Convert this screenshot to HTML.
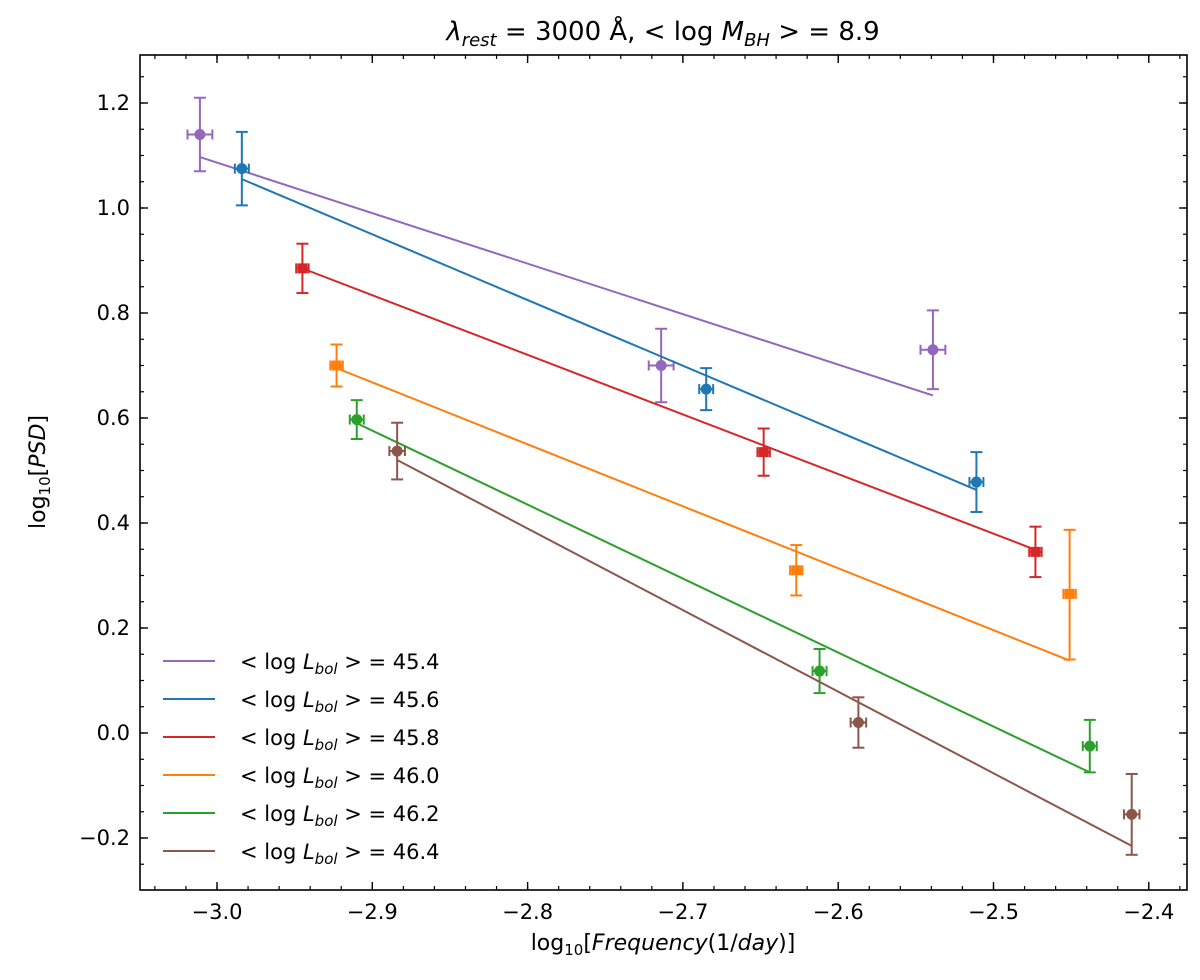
<!DOCTYPE html>
<html><head><meta charset="utf-8"><style>
body{margin:0;background:#fff;}
text{font-family:"DejaVu Sans","Liberation Sans",sans-serif;}
</style></head><body>
<svg id="chart" width="1200" height="975" xmlns="http://www.w3.org/2000/svg"></svg>
<script>
const seriesNames=["45.4","45.6","45.8","46.0","46.2","46.4"];
const colors=["#9467bd","#1f77b4","#d62728","#ff7f0e","#2ca02c","#8c564b"];
const markers=["circle","circle","square","square","circle","circle"];
const xVals=[[-3.011,-2.714,-2.539],[-2.984,-2.685,-2.511],[-2.945,-2.648,-2.473],[-2.923,-2.627,-2.451],[-2.91,-2.612,-2.438],[-2.884,-2.587,-2.411]];
const yVals=[[1.14,0.70,0.73],[1.075,0.655,0.478],[0.885,0.535,0.345],[0.70,0.31,0.265],[0.597,0.118,-0.025],[0.537,0.02,-0.155]];
const yErrLo=[[0.07,0.07,0.075],[0.07,0.04,0.057],[0.047,0.045,0.048],[0.04,0.048,0.125],[0.037,0.042,0.05],[0.054,0.048,0.077]];
const yErrHi=[[0.07,0.07,0.075],[0.07,0.04,0.057],[0.047,0.045,0.048],[0.04,0.048,0.122],[0.037,0.042,0.05],[0.054,0.048,0.077]];
const xErr=[[0.008,0.008,0.008],[0.0045,0.0045,0.0045],[0.004,0.004,0.004],[0.004,0.004,0.004],[0.0045,0.0045,0.0045],[0.005,0.005,0.005]];
const fitStart=[1.097,1.055,0.885,0.695,0.59,0.52];
const fitEnd=[0.643,0.463,0.349,0.138,-0.075,-0.215];
const xTicks=[-3.0,-2.9,-2.8,-2.7,-2.6,-2.5,-2.4];
const yTicks=[-0.2,0.0,0.2,0.4,0.6,0.8,1.0,1.2];

const svg=document.getElementById('chart');
const NS="http://www.w3.org/2000/svg";
const L=140,R=1187,T=55,B=890;
const X=v=>217+(v+3.0)*1553;
const Y=v=>733-v*525;
function el(tag,a,p){const e=document.createElementNS(NS,tag);for(const k in a)e.setAttribute(k,a[k]);(p||svg).appendChild(e);return e;}
const fmt=v=>(v<0?"\u2212":"")+Math.abs(v).toFixed(1);

let frame=el('rect',{x:L,y:T,width:R-L,height:B-T,fill:'none',stroke:'#000','stroke-width':1.6});


for(let i=0;i<=40;i++){const v=-3.06+i*0.02;const px=X(v);if(px<L||px>R)continue;
 el('line',{x1:px,y1:B,x2:px,y2:B-4,stroke:'#000','stroke-width':1.2});
 el('line',{x1:px,y1:T,x2:px,y2:T+4,stroke:'#000','stroke-width':1.2});}
xTicks.forEach(v=>{const px=X(v);
 el('line',{x1:px,y1:B,x2:px,y2:B-8,stroke:'#000','stroke-width':1.4});
 el('line',{x1:px,y1:T,x2:px,y2:T+8,stroke:'#000','stroke-width':1.4});
 const t=el('text',{x:px,y:B+29,'font-size':21,'text-anchor':'middle'});t.textContent=fmt(v);
 });
for(let i=0;i<=40;i++){const v=-0.3+i*0.05;const py=Y(v);if(py<T||py>B)continue;
 el('line',{x1:L,y1:py,x2:L+4,y2:py,stroke:'#000','stroke-width':1.2});
 el('line',{x1:R,y1:py,x2:R-4,y2:py,stroke:'#000','stroke-width':1.2});}
yTicks.forEach(v=>{const py=Y(v);
 el('line',{x1:L,y1:py,x2:L+8,y2:py,stroke:'#000','stroke-width':1.4});
 el('line',{x1:R,y1:py,x2:R-8,y2:py,stroke:'#000','stroke-width':1.4});
 const t=el('text',{x:L-10,y:py+7,'font-size':21,'text-anchor':'end'});t.textContent=fmt(v);
 });

seriesNames.forEach((n,s)=>{
 const g=el('g',{});
 const c=colors[s];
 const xs=xVals[s];
 const ln=el('line',{x1:X(xs[0]),y1:Y(fitStart[s]),x2:X(xs[2]),y2:Y(fitEnd[s]),stroke:c,'stroke-width':2},g);
 
 xs.forEach((x,i)=>{const y=yVals[s][i],px=X(x),py=Y(y);
  const y1=Y(y+yErrHi[s][i]),y2=Y(y-yErrLo[s][i]),x1=X(x-xErr[s][i]),x2=X(x+xErr[s][i]);
  el('line',{x1:px,y1:y1,x2:px,y2:y2,stroke:c,'stroke-width':2},g);
  el('line',{x1:px-6,y1:y1,x2:px+6,y2:y1,stroke:c,'stroke-width':2},g);
  el('line',{x1:px-6,y1:y2,x2:px+6,y2:y2,stroke:c,'stroke-width':2},g);
  el('line',{x1:x1,y1:py,x2:x2,y2:py,stroke:c,'stroke-width':2},g);
  el('line',{x1:x1,y1:py-5,x2:x1,y2:py+5,stroke:c,'stroke-width':2},g);
  el('line',{x1:x2,y1:py-5,x2:x2,y2:py+5,stroke:c,'stroke-width':2},g);
  let m;
  if(markers[s]==='square') m=el('rect',{x:px-5,y:py-5,width:10,height:10,fill:c},g);
  else m=el('circle',{cx:px,cy:py,r:5.5,fill:c},g);
  
 });
 const ly=661+s*38;
 const lg=el('g',{});
 el('line',{x1:163,y1:ly,x2:215,y2:ly,stroke:c,'stroke-width':2},lg);
 const t=el('text',{x:240,y:ly+8,'font-size':21},lg);
 t.innerHTML='&lt; log <tspan font-style="italic">L</tspan><tspan font-style="italic" font-size="15" dy="5">bol</tspan><tspan dy="-5"> &gt; = '+n+'</tspan>';
});

const xt=el('text',{x:663,y:950,'font-size':22,'text-anchor':'middle'});
xt.innerHTML='log<tspan font-size="15" dy="5">10</tspan><tspan dy="-5">[</tspan><tspan font-style="italic">Frequency</tspan>(1/<tspan font-style="italic">day</tspan>)]';

const yt=el('text',{x:0,y:0,'font-size':22,'text-anchor':'middle',transform:'translate(45,472) rotate(-90)'});
yt.innerHTML='log<tspan font-size="15" dy="5">10</tspan><tspan dy="-5">[</tspan><tspan font-style="italic">PSD</tspan>]';

const tt=el('text',{x:663,y:40,'font-size':26,'text-anchor':'middle'});
tt.innerHTML='<tspan font-style="italic">λ</tspan><tspan font-style="italic" font-size="18" dy="6">rest</tspan><tspan dy="-6"> = 3000 Å,  &lt; log </tspan><tspan font-style="italic">M</tspan><tspan font-style="italic" font-size="18" dy="6">BH</tspan><tspan dy="-6"> &gt; = 8.9</tspan>';

</script>
</body></html>
